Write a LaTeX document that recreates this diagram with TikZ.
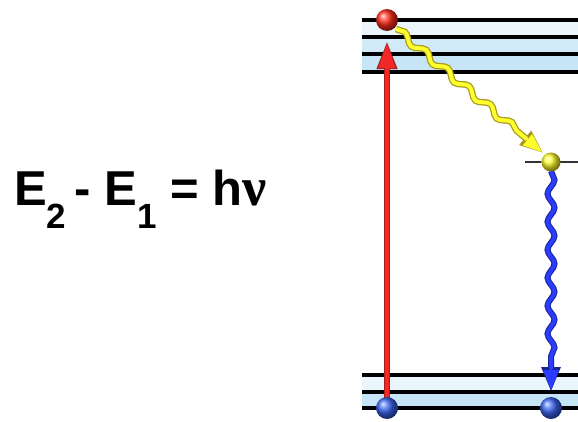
\documentclass[tikz,border=0pt]{standalone}
\usepackage{fontspec}
\setmainfont{Liberation Sans}
\newfontfamily\nufont{Liberation Serif}
\usetikzlibrary{arrows.meta,decorations.pathmorphing,shadings,calc}
\definecolor{bandlight}{HTML}{EAF5FC}
\definecolor{bandblue}{HTML}{C6E5F6}
\definecolor{yel}{HTML}{FFFF30}
\definecolor{yelout}{HTML}{A89A18}
\definecolor{blu}{HTML}{2A3CFF}
\definecolor{bluout}{HTML}{1A2490}
\definecolor{redarrow}{HTML}{F02828}
\definecolor{ballred}{HTML}{FF2A1A}
\definecolor{ballblue}{HTML}{3A64F0}
\definecolor{ballyel}{HTML}{FFFA30}
\tikzset{
  level/.style={line width=3.5pt, black},
  ballnode/.style={circle, minimum size=#1, inner sep=0pt, shading=ball},
  wave/.style={decorate, decoration={snake, amplitude=3.5pt, segment length=28pt}},
}
\begin{document}
\begin{tikzpicture}[x=1pt,y=-1pt]
\useasboundingbox (0,0) rectangle (578,421);
\fill[white] (0,0) rectangle (578,421);
% top bands
\fill[bandlight] (362,20) rectangle (578,37);
\fill[bandblue!70!bandlight] (362,37) rectangle (578,54);
\fill[bandblue] (362,54) rectangle (578,72);
\foreach \y in {20,37,54,72} \draw[level] (362,\y) -- (578,\y);
% bottom bands
\fill[bandlight] (362,375) rectangle (578,392);
\fill[bandblue] (362,392) rectangle (578,408);
\foreach \y in {375,392,408} \draw[level] (362,\y) -- (578,\y);
% middle level
\draw[line width=2pt, black!80] (525,162) -- (578,162);
% ball centres
\coordinate (rc) at (387,20);
\coordinate (yc) at (551,162);
\coordinate (b1c) at (387,408);
\coordinate (b2c) at (551,408);
% red excitation arrow
\draw[redarrow!70!black, line width=6.5pt, -{Triangle[width=19pt,length=28pt]}, shorten >=21pt] (b1c) -- (rc);
\draw[redarrow, line width=4.5pt, -{Triangle[width=16pt,length=25pt]}, shorten >=23pt] (b1c) -- (rc);
% yellow wavy arrow
\coordinate (ys) at (396,29);
\coordinate (yt) at (542,152);
\coordinate (ym) at ($(yt)!20pt!(ys)$);
\draw[yelout, line width=6.5pt, wave] (ys) -- (ym);
\draw[yelout, line width=3pt, -{Triangle[width=18pt,length=23pt]}] ($(ym)!3pt!(ys)$) -- ($(yt)!-1pt!(ys)$);
\draw[yel, line width=4pt, wave] (ys) -- (ym);
\draw[yel, line width=2pt, -{Triangle[width=14pt,length=19pt]}] ($(ym)!2pt!(ys)$) -- (yt);
% blue wavy arrow
\coordinate (bs) at (551,171);
\coordinate (bt) at (551,390);
\coordinate (bm) at ($(bt)!21pt!(bs)$);
\draw[bluout, line width=6pt, wave] (bs) -- (bm);
\draw[bluout, line width=3pt, -{Triangle[width=19pt,length=24pt]}] ($(bm)!3pt!(bs)$) -- ($(bt)!-1pt!(bs)$);
\draw[blu, line width=4pt, wave] (bs) -- (bm);
\draw[blu, line width=2pt, -{Triangle[width=15pt,length=20pt]}] ($(bm)!2pt!(bs)$) -- (bt);
% balls
\node[ballnode=22pt, ball color=ballred] (red) at (rc) {};
\node[ballnode=19pt, ball color=ballyel] (yellow) at (yc) {};
\node[ballnode=22pt, ball color=ballblue] (blue1) at (b1c) {};
\node[ballnode=22pt, ball color=ballblue] (blue2) at (b2c) {};
% equation
\node[anchor=base west, inner sep=0pt, font=\bfseries\fontsize{49}{52}\selectfont] (eq) at (14,205)
  {E\raisebox{-23pt}{\fontsize{35}{38}\selectfont 2}\,- E\raisebox{-23pt}{\fontsize{35}{38}\selectfont 1} = h{\nufont\fontsize{54}{56}\selectfont ν}};
\end{tikzpicture}
\end{document}
